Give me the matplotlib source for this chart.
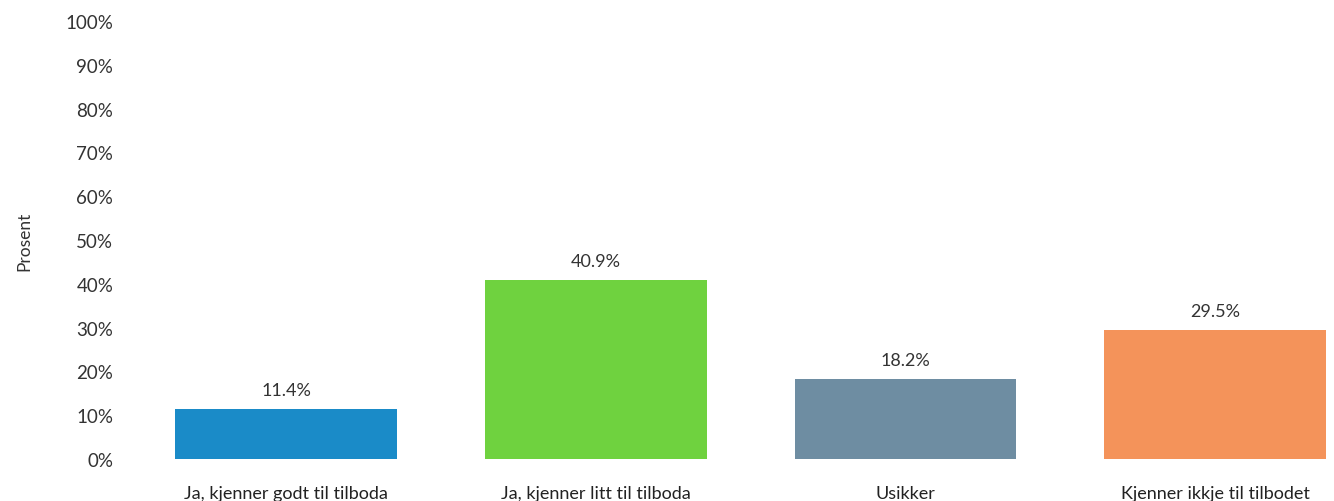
import matplotlib
matplotlib.use("Agg")
import matplotlib.pyplot as plt
from matplotlib.ticker import PercentFormatter

categories = ["Ja, kjenner godt til tilboda", "Ja, kjenner litt til tilboda",
              "Usikker", "Kjenner ikkje til tilbodet"]
values = [11.4, 40.9, 18.2, 29.5]
colors = ["#1a8bc8", "#6fd23f", "#6e8da2", "#f4935a"]
y_ticks = list(range(0, 101, 10))

plt.rcParams["font.family"] = ["Lato", "DejaVu Sans"]

fig = plt.figure(figsize=(13.34, 5.02), dpi=100)
ax = fig.add_axes([130 / 1334, 1 - 460 / 502, 1 - 130 / 1334, (460 - 22) / 502])

x = range(len(categories))
bars = ax.bar(x, values, width=0.716, color=colors)
for b, v in zip(bars, values):
    ax.text(b.get_x() + b.get_width() / 2, v + 2.5, f"{v:.1f}%",
            ha="center", va="bottom", fontsize=13, color="#333333")

ax.set_xlim(-0.504, 3.384)
ax.set_ylim(0, 100)
ax.set_yticks(y_ticks)
ax.yaxis.set_major_formatter(PercentFormatter(decimals=0))
ax.set_xticks(list(x))
ax.set_xticklabels(categories)
ax.tick_params(axis="y", length=0, pad=12, labelsize=13.5, colors="#333333")
ax.tick_params(axis="x", length=0, pad=19, labelsize=13, colors="#222222")
for s in ax.spines.values():
    s.set_visible(False)
ax.set_ylabel("Prosent", fontsize=12.5, color="#333333")
ax.yaxis.set_label_coords(-98 / 1204, 0.5)

fig.savefig("out.png", dpi=100)
